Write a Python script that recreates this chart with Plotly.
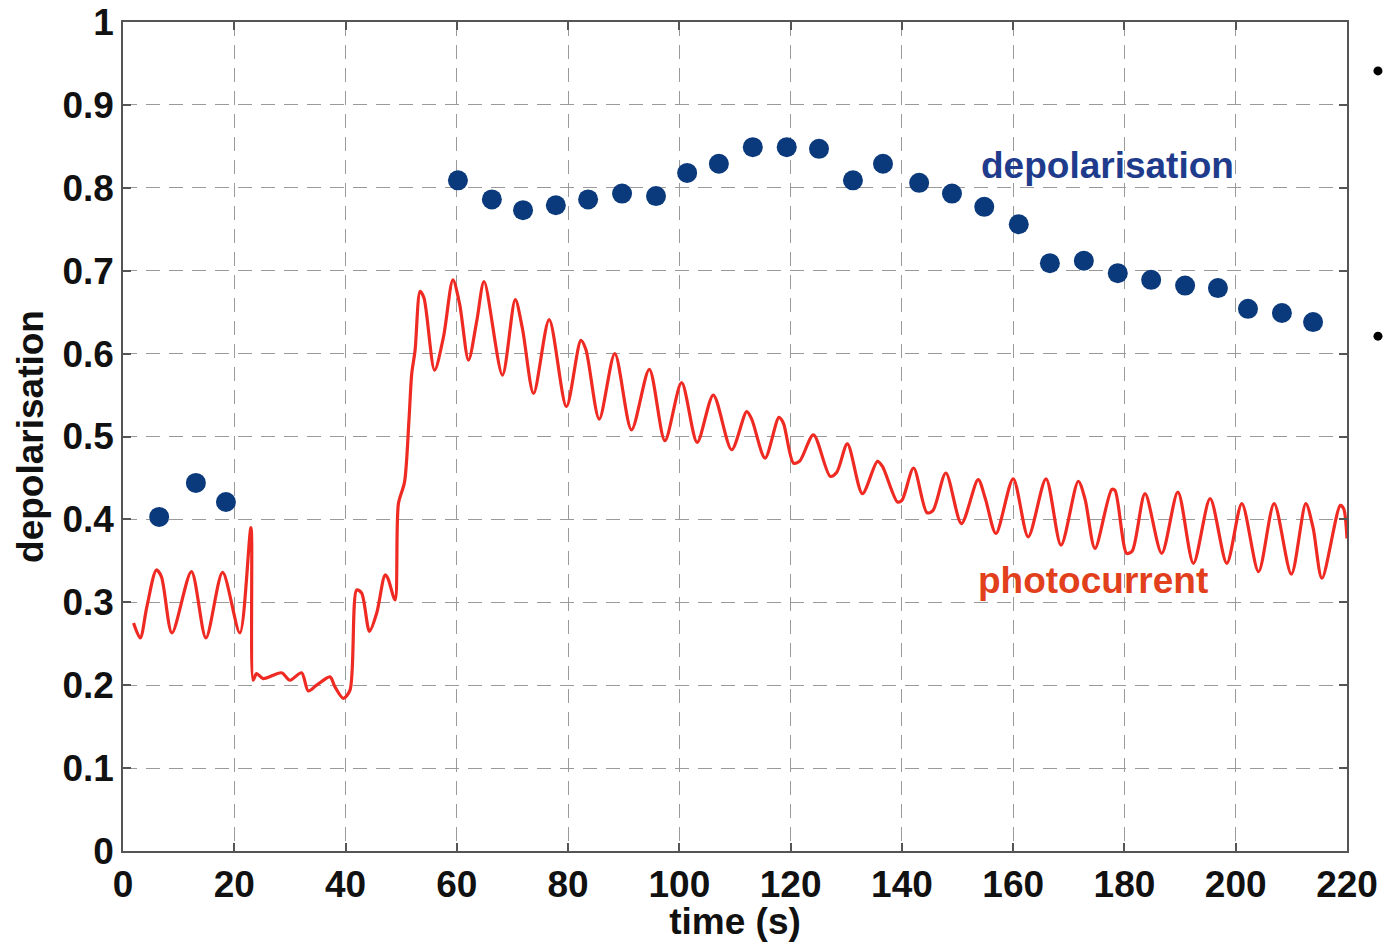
import plotly.graph_objects as go

# ---- data ----
depol_t = [6.5, 13.1, 18.5, 60.2, 66.3, 71.9, 77.8, 83.6, 89.7, 95.8, 101.4, 107.1,
           113.2, 119.3, 125.1, 131.2, 136.6, 143.1, 149.0, 154.8, 161.0, 166.6,
           172.7, 178.8, 184.8, 190.9, 196.8, 202.2, 208.3, 213.9]
depol_v = [0.403, 0.444, 0.421, 0.809, 0.786, 0.773, 0.779, 0.786, 0.793, 0.790, 0.818, 0.829,
           0.849, 0.849, 0.847, 0.809, 0.829, 0.806, 0.793, 0.777, 0.756, 0.709,
           0.712, 0.697, 0.689, 0.682, 0.679, 0.654, 0.649, 0.638]

photo_t = [1.9, 3.1, 4.3, 6.0, 6.9, 8.8, 12.3, 14.9, 17.9, 21.0, 23.0, 23.4, 24.0, 25.2,
           28.5, 30.0, 32.1, 33.3, 34.8, 37.2, 38.1, 39.6, 40.8, 42.0, 42.9, 44.3, 45.6,
           47.1, 47.6, 48.9, 49.5, 50.6, 51.4, 51.9, 52.5, 53.4, 54.1, 56.0, 57.6, 59.3,
           60.5, 62.1, 63.6, 64.9, 68.2, 70.5, 71.8, 73.8, 76.6, 79.7, 82.3, 83.2, 85.6,
           88.4, 91.4, 94.6, 97.4, 100.4, 103.2, 106.1, 109.4, 112.1, 113.0, 115.4, 117.9,
           118.7, 120.5, 121.6, 124.1, 127.1, 128.3, 130.2, 132.9, 135.6, 136.5, 139.2,
           140.0, 142.1, 144.5, 145.6, 147.9, 150.7, 153.7, 155.0, 156.9, 160.0, 162.7,
           165.9, 168.6, 171.7, 172.9, 174.7, 177.7, 178.3, 180.4, 181.4, 183.7, 186.7,
           189.6, 192.4, 195.4, 198.4, 201.1, 204.1, 206.9, 210.0, 212.6, 213.9, 215.5,
           218.8, 219.4, 220.0]
photo_v = [0.275, 0.257, 0.295, 0.339, 0.331, 0.263, 0.337, 0.257, 0.336, 0.263, 0.390, 0.206,
           0.214, 0.208, 0.215, 0.206, 0.215, 0.193, 0.200, 0.210, 0.198, 0.184, 0.194, 0.315,
           0.311, 0.265, 0.287, 0.333, 0.329, 0.303, 0.419, 0.445, 0.520, 0.576, 0.604, 0.675,
           0.667, 0.580, 0.620, 0.689, 0.660, 0.592, 0.640, 0.687, 0.574, 0.665, 0.630, 0.552,
           0.641, 0.536, 0.616, 0.605, 0.521, 0.600, 0.508, 0.581, 0.495, 0.565, 0.493, 0.550,
           0.484, 0.530, 0.521, 0.474, 0.523, 0.516, 0.468, 0.470, 0.502, 0.452, 0.457, 0.491,
           0.431, 0.470, 0.464, 0.421, 0.423, 0.462, 0.408, 0.411, 0.456, 0.395, 0.448, 0.425,
           0.383, 0.449, 0.379, 0.449, 0.369, 0.446, 0.425, 0.365, 0.436, 0.435, 0.359, 0.362,
           0.431, 0.359, 0.433, 0.347, 0.425, 0.347, 0.419, 0.337, 0.419, 0.334, 0.419, 0.390,
           0.329, 0.417, 0.413, 0.377]

x_ticks = [0, 20, 40, 60, 80, 100, 120, 140, 160, 180, 200, 220]
y_ticks = [0, 0.1, 0.2, 0.3, 0.4, 0.5, 0.6, 0.7, 0.8, 0.9, 1]
y_tick_labels = ["0", "0.1", "0.2", "0.3", "0.4", "0.5", "0.6", "0.7", "0.8", "0.9", "1"]

FONT = "Liberation Sans, Arial, Helvetica, sans-serif"
FS = 37

fig = go.Figure()
fig.add_trace(go.Scatter(
    x=photo_t, y=photo_v, mode="lines",
    line=dict(color="#ee2a22", width=3.2, shape="spline", smoothing=0.8),
    name="photocurrent", showlegend=False, hoverinfo="skip"))
fig.add_trace(go.Scatter(
    x=depol_t, y=depol_v, mode="markers",
    marker=dict(color="#0b3a7c", size=20, line=dict(width=0)),
    name="depolarisation", showlegend=False))

axis_common = dict(
    showline=True, linecolor="#555555", linewidth=1.5, mirror="ticks",
    ticks="inside", ticklen=8, tickcolor="#555555", tickwidth=1.5,
    showgrid=True, gridcolor="#9a9a9a", gridwidth=1.3, griddash="14px,9px",
    zeroline=False, automargin=False, ticklabeloverflow="allow",
    tickfont=dict(family=FONT, size=FS, color="#111111", weight="bold"),
)

fig.update_xaxes(range=[0, 220], tickvals=x_ticks, **axis_common,
                 title=dict(text="time (s)", standoff=0,
                            font=dict(family=FONT, size=FS, color="#111111", weight="bold")))
fig.update_yaxes(range=[0, 1], tickvals=y_ticks, ticktext=y_tick_labels, **axis_common,
                 title=dict(text="depolarisation", standoff=7,
                            font=dict(family=FONT, size=FS, color="#111111", weight="bold")))

fig.add_annotation(x=176.9, y=0.8275, text="depolarisation", showarrow=False,
                   font=dict(family=FONT, size=FS, color="#1f3b8c", weight="bold"))
fig.add_annotation(x=174.3, y=0.3257, text="photocurrent", showarrow=False,
                   font=dict(family=FONT, size=FS, color="#e2401c", weight="bold"))

# two bullet points outside the axes (from the slide)
for yb in [0.941, 0.621]:
    fig.add_shape(type="circle", xref="paper", yref="paper",
                  xsizemode="pixel", ysizemode="pixel",
                  xanchor=1.0253, yanchor=yb, x0=-4.5, x1=4.5, y0=-4.5, y1=4.5,
                  fillcolor="#000000", line=dict(width=0))

fig.update_layout(
    width=1385, height=942,
    margin=dict(l=123, r=38, t=22, b=91, autoexpand=False),
    plot_bgcolor="white", paper_bgcolor="white",
)

fig.write_html(
    "out.html",
    config={"displayModeBar": False},
    post_script="document.body.style.margin='0';document.body.style.overflow='hidden';",
)
